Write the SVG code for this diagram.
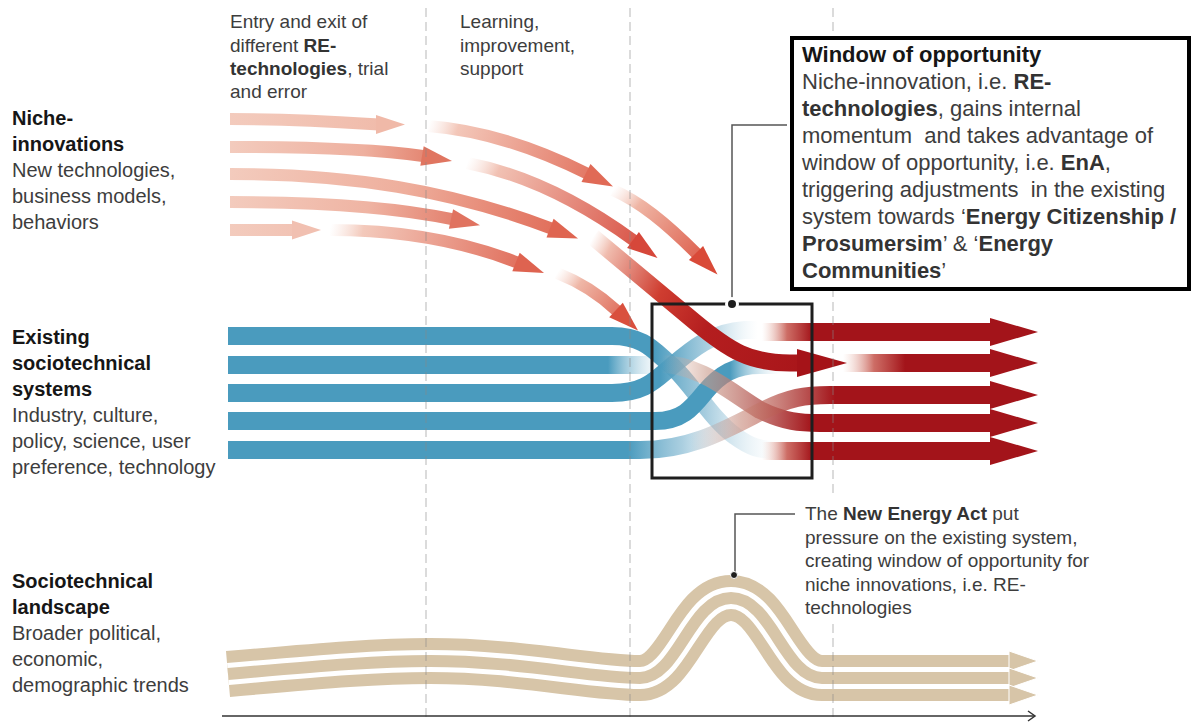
<svg xmlns="http://www.w3.org/2000/svg" width="1192" height="722" viewBox="0 0 1192 722">
<style>
  text { font-family: "Liberation Sans", Arial, sans-serif; fill: #3d3d3d; }
  .hd { font-weight: bold; fill: #161616; }
  .b { font-weight: bold; fill: #333; }
  .side { font-size: 20px; }
  .top { font-size: 19px; }
  .box { font-size: 22px; }
  .act { font-size: 19px; }
  .grid { stroke: #8a8a8a; stroke-opacity: 0.5; stroke-width: 1.2; stroke-dasharray: 9 5; fill: none; }
  .niche { fill: none; stroke-width: 12; }
  .bar { fill: none; stroke-width: 18; }
  .lead { fill: none; stroke: #555; stroke-width: 1.5; }
  .red { fill: #a3141a; }
</style>
<defs>
  <!-- niche arrows: pale tail, warmer head -->
  <linearGradient id="gN1a" gradientUnits="userSpaceOnUse" x1="230" y1="119" x2="405" y2="124"><stop offset="0" stop-color="#f3cbbd"/><stop offset="1" stop-color="#f0b9a8"/></linearGradient>
  <linearGradient id="gN2a" gradientUnits="userSpaceOnUse" x1="230" y1="147" x2="452" y2="161"><stop offset="0" stop-color="#f3cbbd"/><stop offset="0.6" stop-color="#eeb09f"/><stop offset="1" stop-color="#e07560"/></linearGradient>
  <linearGradient id="gN3" gradientUnits="userSpaceOnUse" x1="230" y1="174" x2="577" y2="238"><stop offset="0" stop-color="#f3cbbd"/><stop offset="0.5" stop-color="#eeae9c"/><stop offset="1" stop-color="#df6551"/></linearGradient>
  <linearGradient id="gN4" gradientUnits="userSpaceOnUse" x1="230" y1="202" x2="479" y2="225"><stop offset="0" stop-color="#f3cbbd"/><stop offset="0.55" stop-color="#efb4a3"/><stop offset="1" stop-color="#e07360"/></linearGradient>
  <linearGradient id="gN5a" gradientUnits="userSpaceOnUse" x1="230" y1="230" x2="321" y2="230"><stop offset="0" stop-color="#f3cbbd"/><stop offset="1" stop-color="#f1c0b1"/></linearGradient>
  <linearGradient id="gN5b" gradientUnits="userSpaceOnUse" x1="330" y1="230" x2="543" y2="273"><stop offset="0" stop-color="#f6d8ce" stop-opacity="0"/><stop offset="0.15" stop-color="#f3c9bb"/><stop offset="1" stop-color="#de6350"/></linearGradient>
  <linearGradient id="gN5c" gradientUnits="userSpaceOnUse" x1="557" y1="273" x2="637" y2="330"><stop offset="0" stop-color="#f4cfc3" stop-opacity="0"/><stop offset="0.25" stop-color="#efb7a7"/><stop offset="1" stop-color="#d9503e"/></linearGradient>
  <linearGradient id="gN1b" gradientUnits="userSpaceOnUse" x1="428" y1="126" x2="612" y2="186"><stop offset="0" stop-color="#f6d8ce" stop-opacity="0"/><stop offset="0.15" stop-color="#f3c7b9"/><stop offset="1" stop-color="#e06a56"/></linearGradient>
  <linearGradient id="gN1c" gradientUnits="userSpaceOnUse" x1="613" y1="190" x2="717" y2="274"><stop offset="0" stop-color="#f4cfc3" stop-opacity="0"/><stop offset="0.22" stop-color="#efb5a4"/><stop offset="1" stop-color="#d94a38"/></linearGradient>
  <linearGradient id="gN2b" gradientUnits="userSpaceOnUse" x1="467" y1="163" x2="656" y2="257"><stop offset="0" stop-color="#f6d8ce" stop-opacity="0"/><stop offset="0.15" stop-color="#f1c1b3"/><stop offset="1" stop-color="#d6473a"/></linearGradient>
  <linearGradient id="gMain" gradientUnits="userSpaceOnUse" x1="593" y1="237" x2="847" y2="363"><stop offset="0" stop-color="#f3cbbd" stop-opacity="0"/><stop offset="0.07" stop-color="#f0bcae"/><stop offset="0.3" stop-color="#cf3d30"/><stop offset="0.5" stop-color="#b41e1f"/><stop offset="1" stop-color="#a51318"/></linearGradient>
  <!-- regime bars fading out inside the window -->
  <linearGradient id="gB1" gradientUnits="userSpaceOnUse" x1="600" y1="0" x2="775" y2="0"><stop offset="0" stop-color="#4a9bbe"/><stop offset="0.31" stop-color="#4a9bbe"/><stop offset="0.6" stop-color="#7fb6d0" stop-opacity="0.7"/><stop offset="1" stop-color="#cfe4ee" stop-opacity="0"/></linearGradient>
  <linearGradient id="gB2" gradientUnits="userSpaceOnUse" x1="608" y1="0" x2="664" y2="0"><stop offset="0" stop-color="#4a9bbe"/><stop offset="1" stop-color="#cfe4ee" stop-opacity="0"/></linearGradient>
  <linearGradient id="gB3" gradientUnits="userSpaceOnUse" x1="660" y1="0" x2="758" y2="0"><stop offset="0" stop-color="#4a9bbe"/><stop offset="0.5" stop-color="#80b7d1" stop-opacity="0.65"/><stop offset="1" stop-color="#cfe4ee" stop-opacity="0"/></linearGradient>
  <linearGradient id="gB4" gradientUnits="userSpaceOnUse" x1="730" y1="0" x2="780" y2="0"><stop offset="0" stop-color="#4a9bbe"/><stop offset="1" stop-color="#cfe4ee" stop-opacity="0"/></linearGradient>
  <linearGradient id="gB5" gradientUnits="userSpaceOnUse" x1="628" y1="0" x2="748" y2="0"><stop offset="0" stop-color="#4a9bbe"/><stop offset="0.45" stop-color="#86bad3" stop-opacity="0.7"/><stop offset="1" stop-color="#d6e8f0" stop-opacity="0"/></linearGradient>
  <!-- new regime bars fading in -->
  <linearGradient id="gR1" gradientUnits="userSpaceOnUse" x1="762" y1="0" x2="812" y2="0"><stop offset="0" stop-color="#e8b8a8" stop-opacity="0"/><stop offset="0.5" stop-color="#c4534a" stop-opacity="0.85"/><stop offset="1" stop-color="#a3141a"/></linearGradient>
  <linearGradient id="gR2" gradientUnits="userSpaceOnUse" x1="843" y1="0" x2="905" y2="0"><stop offset="0" stop-color="#e8b8a8" stop-opacity="0"/><stop offset="0.5" stop-color="#c4534a" stop-opacity="0.85"/><stop offset="1" stop-color="#a3141a"/></linearGradient>
  <linearGradient id="gR3" gradientUnits="userSpaceOnUse" x1="690" y1="0" x2="835" y2="0"><stop offset="0" stop-color="#e0b3a3" stop-opacity="0"/><stop offset="0.35" stop-color="#c98a7a" stop-opacity="0.6"/><stop offset="1" stop-color="#a3141a"/></linearGradient>
  <linearGradient id="gR4" gradientUnits="userSpaceOnUse" x1="662" y1="0" x2="812" y2="0"><stop offset="0" stop-color="#e0b3a3" stop-opacity="0"/><stop offset="0.3" stop-color="#c99a8a" stop-opacity="0.6"/><stop offset="1" stop-color="#a3141a"/></linearGradient>
</defs>

<rect width="1192" height="722" fill="#fff"/>

<!-- landscape: three parallel strands built from one centre line -->
<g id="landscape">
  <path d="M228,674 C330,665 380,661 430,661 C520,661 590,678 640,678 C678,678 690,598 731,598 C772,598 784,678 822,678 L1010,678" fill="none" stroke="#d7c5a8" stroke-width="46"/>
  <path d="M228,674 C330,665 380,661 430,661 C520,661 590,678 640,678 C678,678 690,598 731,598 C772,598 784,678 822,678 L1012,678" fill="none" stroke="#fff" stroke-width="22"/>
  <path d="M228,674 C330,665 380,661 430,661 C520,661 590,678 640,678 C678,678 690,598 731,598 C772,598 784,678 822,678 L1010,678" fill="none" stroke="#d7c5a8" stroke-width="12"/>
  <g fill="#d7c5a8" stroke="#fff" stroke-width="1">
    <polygon points="1009,651 1038,661 1009,671"/>
    <polygon points="1009,668 1038,678 1009,688"/>
    <polygon points="1009,685 1038,695 1009,705"/>
  </g>
</g>

<!-- existing regime bars -->
<g id="regime">
  <path class="bar" stroke="url(#gB2)" d="M228,365 L665,365"/>
  <path class="bar" stroke="url(#gB5)" d="M228,450 L640,450 C690,450 725,430 760,412 C790,397 805,395 830,395"/>
  <path class="bar" stroke="url(#gB1)" d="M228,336 L612,336 C645,336 655,352 672,366 C692,384 712,420 735,436 C750,447 760,450 775,450"/>
  <path class="bar" stroke="url(#gB3)" d="M228,393 L612,393 C645,393 655,380 672,366 C692,349 712,332 745,330 L760,330"/>
  <path class="bar" stroke="url(#gB4)" d="M228,421 L655,421 C682,421 692,408 705,392 C720,374 735,365 760,365 L780,365"/>
</g>

<!-- new regime bars -->
<g id="new-regime">
  <path class="bar" stroke="url(#gR4)" d="M660,364 C700,364 730,392 760,410 C785,422 800,423 820,423 L992,423"/>
  <path class="bar" stroke="url(#gR3)" d="M640,450 C690,450 725,430 760,412 C790,397 805,395 830,395 L992,395"/>
  <path class="bar" stroke="url(#gR1)" d="M762,332 L992,332"/>
  <path class="bar" stroke="url(#gR1)" d="M762,451 L992,451"/>
  <path class="bar" stroke="url(#gR2)" d="M843,363 L992,363"/>
  <polygon class="red" points="990,318 1038,332 990,346"/>
  <polygon class="red" points="990,349 1038,363 990,377"/>
  <polygon class="red" points="990,381 1038,395 990,409"/>
  <polygon class="red" points="990,409 1038,423 990,437"/>
  <polygon class="red" points="990,437 1038,451 990,465"/>
</g>

<!-- niche-innovation arrows -->
<g id="niche">
  <path class="niche" stroke="url(#gN1a)" d="M230,119 C300,119 340,122 378,124.5"/>
  <polygon fill="#f0b9a8" points="376,115 405,124.5 376,134"/>
  <path class="niche" stroke="url(#gN2a)" d="M230,147 C320,147 380,150 423,156"/>
  <polygon fill="#e07560" points="420.3,165.7 452,161 423.7,146.3"/>
  <path class="niche" stroke="url(#gN3)" d="M230,174 C350,174 450,190 551,228.4"/>
  <polygon fill="#df6551" points="546.5,237.4 578,238.6 553.6,218.7"/>
  <path class="niche" stroke="url(#gN4)" d="M230,202 C330,202 400,208 452,219.2"/>
  <polygon fill="#e07360" points="448.9,228.8 480,225.3 453.1,209.2"/>
  <path class="niche" stroke="url(#gN5a)" d="M230,230 L294,230"/>
  <polygon fill="#f1c0b1" points="292,220.5 321,230 292,239.5"/>
  <path class="niche" stroke="url(#gN5b)" d="M330,230 C400,230 460,240 517,262.4"/>
  <polygon fill="#de6350" points="512.3,271.3 544,273 519.7,252.7"/>
  <path class="niche" stroke="url(#gN5c)" d="M557,273 C580,282 600,295 616.7,310.7"/>
  <polygon fill="#d9503e" points="609.2,317.3 638,330.5 622.8,302.7"/>
  <path class="niche" stroke="url(#gN1b)" d="M428,126 C480,130 530,145 587,173.5"/>
  <polygon fill="#e06a56" points="581.5,181.9 613,186.5 590.5,164.1"/>
  <path class="niche" stroke="url(#gN1c)" d="M613,190 C640,202 665,222 696.7,253.7"/>
  <polygon fill="#d94a38" points="688.9,260.1 717.5,274.5 703.1,245.9"/>
  <path class="niche" stroke="url(#gN2b)" d="M467,163 C530,175 585,205 634,240.6"/>
  <polygon fill="#d6473a" points="627.1,248.1 657.5,258 638.9,231.9"/>
  <!-- the innovation that breaks through -->
  <path fill="none" stroke="url(#gMain)" stroke-width="17" d="M593,237 L695,322 C730,351 750,363 790,363 L799,363"/>
  <polygon fill="#a51318" points="797,349 847,363 797,377"/>
</g>

<!-- phase dividers -->
<g id="phases" class="grid">
  <line x1="426" y1="8" x2="426" y2="722"/>
  <line x1="630" y1="8" x2="630" y2="722"/>
  <line x1="833" y1="8" x2="833" y2="722"/>
</g>

<g id="connectors">
  <rect x="652" y="304" width="160" height="174" fill="none" stroke="#1e1e1e" stroke-width="3"/>
  <polyline class="lead" points="787,125 732,125 732,300"/>
  <circle cx="732" cy="304" r="7" fill="#fff"/>
  <circle cx="732" cy="304" r="4" fill="#1e1e1e"/>
  <polyline class="lead" points="795,514 735,514 735,572"/>
  <circle cx="734" cy="575" r="3.5" fill="#1e1e1e" stroke="#fff" stroke-width="1"/>
  <line x1="222" y1="716" x2="1035" y2="716" stroke="#333" stroke-width="1.5"/>
  <polyline points="1028,711 1035,716 1028,721" fill="none" stroke="#333" stroke-width="1.5"/>
</g>

<g id="label-niche" class="side">
  <text x="12" y="125" class="hd">Niche-</text>
  <text x="12" y="151" class="hd">innovations</text>
  <text x="12" y="177">New technologies,</text>
  <text x="12" y="203">business models,</text>
  <text x="12" y="229">behaviors</text>
</g>

<g id="label-existing" class="side">
  <text x="12" y="344" class="hd">Existing</text>
  <text x="12" y="370" class="hd">sociotechnical</text>
  <text x="12" y="396" class="hd">systems</text>
  <text x="12" y="422">Industry, culture,</text>
  <text x="12" y="448">policy, science, user</text>
  <text x="12" y="474">preference, technology</text>
</g>

<g id="label-landscape" class="side">
  <text x="12" y="588" class="hd">Sociotechnical</text>
  <text x="12" y="614" class="hd">landscape</text>
  <text x="12" y="640">Broader political,</text>
  <text x="12" y="666">economic,</text>
  <text x="12" y="692">demographic trends</text>
</g>

<g id="note-entry" class="top">
  <text x="230" y="28">Entry and exit of</text>
  <text x="230" y="52">different <tspan class="b">RE-</tspan></text>
  <text x="230" y="75"><tspan class="b">technologies</tspan>, trial</text>
  <text x="230" y="98">and error</text>
</g>

<g id="note-learning" class="top">
  <text x="460" y="28">Learning,</text>
  <text x="460" y="52">improvement,</text>
  <text x="460" y="75">support</text>
</g>

<g id="callout-window" class="box">
  <rect x="792" y="38" width="397" height="251" fill="#fff" stroke="#000" stroke-width="4"/>
  <text x="802" y="62" class="hd">Window of opportunity</text>
  <text x="802" y="89">Niche-innovation, i.e. <tspan class="b">RE-</tspan></text>
  <text x="802" y="116"><tspan class="b">technologies</tspan>, gains internal</text>
  <text x="802" y="143" xml:space="preserve">momentum  and takes advantage of</text>
  <text x="802" y="170">window of opportunity, i.e. <tspan class="b">EnA</tspan>,</text>
  <text x="802" y="197" xml:space="preserve">triggering adjustments  in the existing</text>
  <text x="802" y="224">system towards ‘<tspan class="b">Energy Citizenship /</tspan></text>
  <text x="802" y="251"><tspan class="b">Prosumersim</tspan>’ &amp; ‘<tspan class="b">Energy</tspan></text>
  <text x="802" y="278"><tspan class="b">Communities</tspan>’</text>
</g>

<g id="note-energy-act" class="act">
  <rect x="800" y="498" width="300" height="124" fill="#fff"/>
  <text x="805" y="520">The <tspan class="b">New Energy Act</tspan> put</text>
  <text x="805" y="544">pressure on the existing system,</text>
  <text x="805" y="567">creating window of opportunity for</text>
  <text x="805" y="591">niche innovations, i.e. RE-</text>
  <text x="805" y="614">technologies</text>
</g>
</svg>
